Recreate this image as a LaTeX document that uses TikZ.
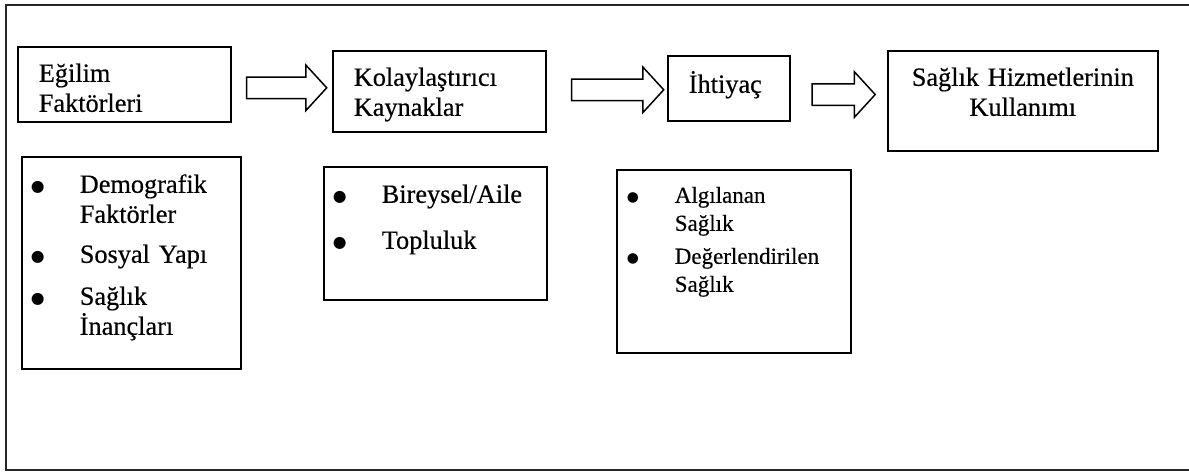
\documentclass[tikz,border=0pt]{standalone}
\usepackage{fontspec}
\setmainfont{Liberation Serif}[FakeBold=0.4]
\newfontfamily\simge{DejaVu Sans}
\usetikzlibrary{shapes.arrows,calc}

\tikzset{every picture/.style={line width=1.6pt}}
\tikzset{
  kutu/.style={draw, anchor=north west, inner sep=0pt, align=left, font=\fontsize{26.3}{30}\selectfont},
  okblok/.style={draw, fill=white, single arrow, single arrow head extend=12pt, single arrow tip angle=95,
    minimum width=45pt, inner xsep=0pt, inner ysep=10pt, line width=1.5pt}
}
\newcommand{\madde}[1]{\hspace*{16pt}\makebox[0pt]{\raisebox{0.06em}{\simge\fontsize{0.6em}{1em}\selectfont ●}}\hspace*{42pt}#1}
\newcommand{\devam}[1]{\hspace*{58pt}#1}

\begin{document}
\begin{tikzpicture}[x=1pt,y=1pt,yscale=-1]
\useasboundingbox (0,0) rectangle (1189,472);

%Straight Lines [frame]
\draw [color=black!85, line width=1.5pt] (1189,5) -- (6,5) -- (6,470) -- (1189,470) ;

%Shape: Rectangle [top row]
\node [kutu, inner xsep=21pt, text width=171pt, text height=35pt, text depth=40pt] (egilim) at (17,46) {Eğilim\\Faktörleri};
\node [kutu, inner xsep=21pt, text width=171pt, text height=35pt, text depth=46pt] (kolay) at (332,50) {Kolaylaştırıcı\\Kaynaklar};
\node [kutu, inner xsep=21pt, text width=80pt, text height=37pt, text depth=28pt] (ihtiyac) at (667,55) {İhtiyaç};
\node [kutu, align=center, inner xsep=10pt, text width=250pt, text height=35pt, text depth=65pt] (kullanim) at (887,50) {Sağlık Hizmetlerinin\\Kullanımı};

%Right Arrows
\node [okblok, minimum height=80pt] (ok1) at ($(egilim.east)!0.5!(kolay.west)$) {};
\node [okblok, minimum height=92pt, xshift=6pt] (ok2) at ($(kolay.east)!0.5!(ihtiyac.west)$) {};
\node [okblok, minimum height=63pt] (ok3) at ($(ihtiyac.east)!0.5!(kullanim.west)$) {};

%Shape: Rectangle [lists]
\node [kutu, text width=219pt, text height=36pt, text depth=176pt] (egilimliste) at (21,156)
  {\madde{Demografik}\\\devam{Faktörler}\\[10pt]\madde{Sosyal Yapı}\\[12pt]\madde{Sağlık}\\\devam{İnançları}};
\node [kutu, text width=223pt, text height=36pt, text depth=97pt] (kolayliste) at (323,166)
  {\madde{Bireysel/Aile}\\[16pt]\madde{Topluluk}};
\node [kutu, font=\fontsize{23}{28}\selectfont, text width=234pt, text height=33pt, text depth=150pt] (ihtiyacliste) at (616,169)
  {\madde{Algılanan}\\\devam{Sağlık}\\[5pt]\madde{Değerlendirilen}\\\devam{Sağlık}};

\end{tikzpicture}
\end{document}
